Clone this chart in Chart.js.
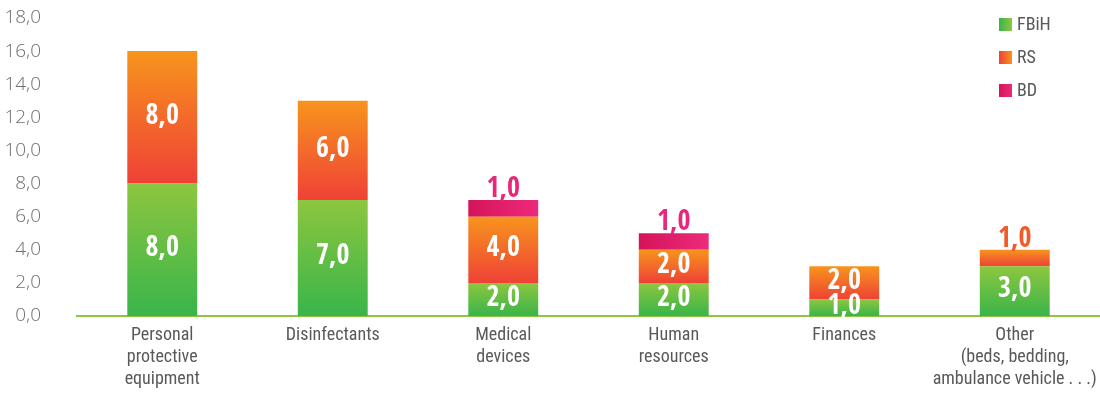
<!DOCTYPE html>
<html>
<head>
<meta charset="utf-8">
<script src="https://cdn.jsdelivr.net/npm/chart.js@4.4.1/dist/chart.umd.min.js"></script>
<style>
  html, body { margin: 0; padding: 0; background: #fff; }
  #wrap { width: 1100px; height: 396px; }
</style>
</head>
<body>
<div id="wrap"><canvas id="chart"></canvas></div>
<script>
const categories = [
  ["Personal", "protective", "equipment"],
  "Disinfectants",
  ["Medical", "devices"],
  ["Human", "resources"],
  "Finances",
  ["Other", "(beds, bedding,", "ambulance vehicle . . .)"],
];
const fbihValues = [8, 7, 2, 2, 1, 3];
const rsValues = [8, 6, 4, 2, 2, 1];
const bdValues = [0, 0, 1, 1, 0, 0];
const yTicks = [0, 2, 4, 6, 8, 10, 12, 14, 16, 18];

const condensed = "'Roboto Condensed', 'Open Sans Condensed', sans-serif";
const boldCondensed = "'Open Sans Condensed', 'Roboto Condensed', sans-serif";
const fmt = v => v.toFixed(1).replace(".", ",");

// colour stops: [top, bottom] for vertical, [left, right] for horizontal
const palette = {
  FBiH: { stops: ["#8dc63f", "#39b54a"], dir: "v", text: "#39b54a" },
  RS: { stops: ["#f7941d", "#ef4136"], dir: "v", text: "#f15a29" },
  BD: { stops: ["#d4145a", "#ed2a7b"], dir: "h", text: "#ea267a" },
};

const series = [
  { label: "FBiH", data: fbihValues },
  { label: "RS", data: rsValues },
  { label: "BD", data: bdValues },
];

function segmentFill(ctx) {
  const chart = ctx.chart;
  const p = palette[chart.data.datasets[ctx.datasetIndex].label];
  if (!chart.chartArea || ctx.type !== "data") return p.stops[1];
  const y = chart.scales.y;
  let start = 0;
  for (let i = 0; i < ctx.datasetIndex; i++) start += chart.data.datasets[i].data[ctx.dataIndex];
  const end = start + chart.data.datasets[ctx.datasetIndex].data[ctx.dataIndex];
  const c = chart.ctx;
  let g;
  if (p.dir === "v") {
    g = c.createLinearGradient(0, y.getPixelForValue(end), 0, y.getPixelForValue(start));
  } else {
    const x = chart.scales.x.getPixelForValue(ctx.dataIndex);
    g = c.createLinearGradient(x - 35, 0, x + 35, 0);
  }
  g.addColorStop(0, p.stops[0]);
  g.addColorStop(1, p.stops[1]);
  return g;
}

// value labels: white inside the segment, coloured above the stack for thin top segments
const valueLabels = {
  id: "valueLabels",
  afterDatasetsDraw(chart) {
    const c = chart.ctx;
    c.save();
    c.font = "bold 28px " + boldCondensed;
    c.textAlign = "center";
    const n = chart.data.datasets.length;
    chart.data.datasets.forEach((ds, di) => {
      const meta = chart.getDatasetMeta(di);
      meta.data.forEach((bar, j) => {
        const v = ds.data[j];
        if (!v) return;
        let isTop = true;
        for (let k = di + 1; k < n; k++) if (chart.data.datasets[k].data[j]) isTop = false;
        if (isTop && v <= 1) {
          c.fillStyle = palette[ds.label].text;
          c.textBaseline = "alphabetic";
          c.fillText(fmt(v), bar.x, bar.y - 3);
        } else {
          c.fillStyle = "#fff";
          c.textBaseline = "middle";
          c.fillText(fmt(v), bar.x, (bar.y + bar.base) / 2 - 1);
        }
      });
    });
    c.restore();
  },
};

// vertical legend in the top right corner
const cornerLegend = {
  id: "cornerLegend",
  afterDraw(chart) {
    const c = chart.ctx;
    c.save();
    c.font = "18px " + condensed;
    c.textBaseline = "middle";
    c.textAlign = "left";
    chart.data.datasets.forEach((ds, i) => {
      const p = palette[ds.label];
      const cy = 24.5 + i * 33;
      const g = c.createLinearGradient(999, 0, 1012, 0);
      g.addColorStop(0, p.dir === "v" ? p.stops[1] : p.stops[0]);
      g.addColorStop(1, p.dir === "v" ? p.stops[0] : p.stops[1]);
      c.fillStyle = g;
      c.fillRect(999, cy - 6.5, 13, 13);
      c.fillStyle = "#58595b";
      c.fillText(ds.label, 1017, cy + 1);
    });
    c.restore();
  },
};

new Chart(document.getElementById("chart"), {
  type: "bar",
  data: {
    labels: categories,
    datasets: series.map(s => ({
      label: s.label,
      data: s.data,
      backgroundColor: segmentFill,
      borderWidth: 0,
      barPercentage: 0.41,
      categoryPercentage: 1,
    })),
  },
  options: {
    responsive: true,
    maintainAspectRatio: false,
    animation: false,
    layout: { padding: { top: 18, right: 0, left: 0, bottom: 0 } },
    plugins: { legend: { display: false }, tooltip: { enabled: false } },
    scales: {
      x: {
        stacked: true,
        grid: { display: false },
        border: { color: "#8dc63f", width: 2 },
        afterFit: s => { s.paddingLeft = 0; s.paddingRight = 0; s.height = 80; },
        ticks: {
          color: "#58595b",
          padding: 1,
          maxRotation: 0,
          autoSkip: false,
          font: { family: condensed, size: 18, lineHeight: 1.2 },
        },
      },
      y: {
        stacked: true,
        min: 0,
        max: 18,
        afterBuildTicks: s => { s.ticks = yTicks.map(v => ({ value: v })); },
        afterFit: s => { s.width = 77; s.paddingTop = 0; s.paddingBottom = 0; },
        grid: { display: false },
        border: { display: false },
        ticks: {
          color: "#6d6e71",
          padding: 28,
          font: { family: "'Open Sans', sans-serif", size: 19, weight: 300 },
          callback: v => fmt(v),
        },
      },
    },
  },
  plugins: [valueLabels, cornerLegend],
});
</script>
</body>
</html>
